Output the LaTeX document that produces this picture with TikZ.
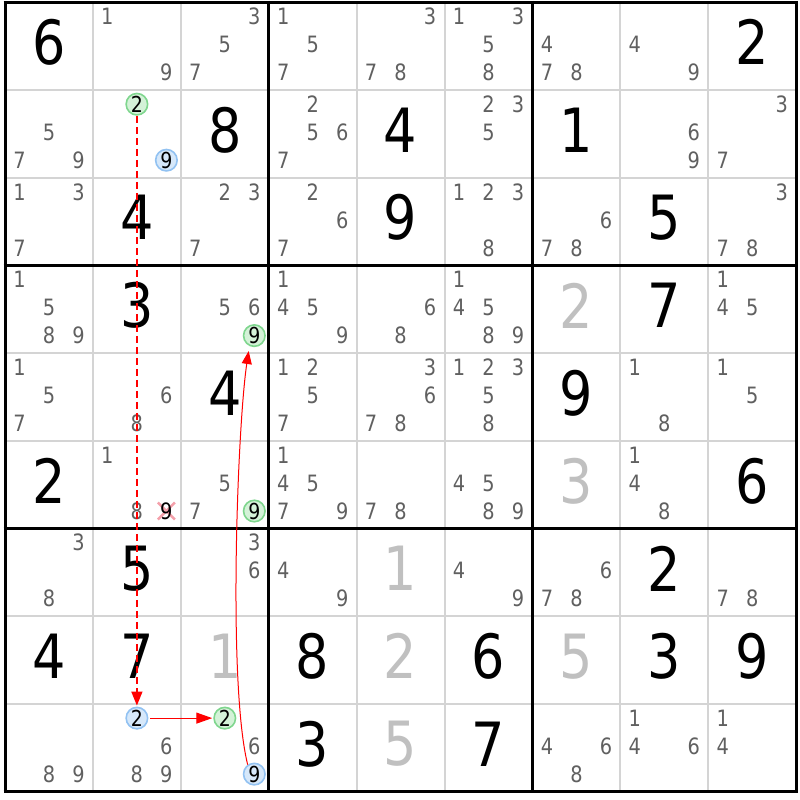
\documentclass[tikz,border=0pt]{standalone}
\usepackage{fontspec}
\setmainfont{DejaVu Sans}[FakeStretch=0.86]
\usetikzlibrary{arrows.meta}
\definecolor{candgray}{HTML}{606060}
\definecolor{givengray}{HTML}{C0C0C0}
\definecolor{gridgray}{HTML}{D4D4D4}
\definecolor{hlgreenfill}{HTML}{D4F2D8}
\definecolor{hlgreendraw}{HTML}{7FD68E}
\definecolor{hlbluefill}{HTML}{D6E8FA}
\definecolor{hlbluedraw}{HTML}{92C2F2}
\definecolor{linkred}{HTML}{FF0000}
\definecolor{elimred}{HTML}{F4A0AA}
\tikzset{
  cand/.style={inner sep=0pt, text=candgray, font=\fontsize{22.5}{22.5}\selectfont},
  given/.style={inner sep=0pt, text=black, font=\fontsize{61}{61}\selectfont},
  givenlight/.style={given, text=givengray},
  hlgreen/.style={circle, draw=hlgreendraw, fill=hlgreenfill, line width=1.6pt, minimum size=21.5pt, inner sep=0pt, text=black, font=\fontsize{22}{22}\selectfont},
  hlblue/.style={hlgreen, draw=hlbluedraw, fill=hlbluefill},
  thin grid/.style={gridgray, line width=2pt},
  thick grid/.style={black, line width=3pt},
  link/.style={linkred, line width=1.2pt, -{Triangle[length=16pt,width=11pt]}},
  dashlink/.style={linkred, line width=1.5pt, dash pattern=on 7pt off 4pt, -{Triangle[length=14pt,width=11pt]}},
  curvelink/.style={linkred, line width=1pt, -{Triangle[length=13pt,width=10pt]}},
  elim/.style={elimred, line width=2.5pt},
}
\newcommand\SGiven[3]{\node[given] (g#1#2) at ({5+(#2-0.5)*87.9},{2.5+(#1-0.5)*87.7-4}) {#3};}
\newcommand\SGivenL[3]{\node[givenlight] (g#1#2) at ({5+(#2-0.5)*87.9},{2.5+(#1-0.5)*87.7-4}) {#3};}
\newcommand\SCands[3]{\foreach \d in {#3} {\node[cand] (c#1#2\d) at ({5+(#2-1)*87.9+14.5+29.5*mod(\d-1,3)},{2.5+(#1-1)*87.7+14+28*int((\d-1)/3)}) {\d};}}
\newcommand\SHl[5]{\node[#4] (#5) at ({5+(#2-1)*87.9+14.5+29.5*mod(#3-1,3)},{2.5+(#1-1)*87.7+14+28*int((#3-1)/3)}) {#3};}
\begin{document}
\begin{tikzpicture}[x=1pt,y=-1pt]
\useasboundingbox (0,0) rectangle (800,800);
\fill[white] (0,0) rectangle (800,800);
% grid
\foreach \i in {1,2,4,5,7,8} {
  \draw[thin grid] ({5+87.9*\i},2.5) -- ({5+87.9*\i},791.8);
  \draw[thin grid] (5,{2.5+87.7*\i}) -- (796.1,{2.5+87.7*\i});
}
\foreach \i in {0,3,6,9} {
  \draw[thick grid] ({5+87.9*\i},1) -- ({5+87.9*\i},793.3);
  \draw[thick grid] (3.5,{2.5+87.7*\i}) -- (797.6,{2.5+87.7*\i});
}
% row 1
\SGiven{1}{1}{6}
\SCands{1}{2}{1,9}
\SCands{1}{3}{3,5,7}
\SCands{1}{4}{1,5,7}
\SCands{1}{5}{3,7,8}
\SCands{1}{6}{1,3,5,8}
\SCands{1}{7}{4,7,8}
\SCands{1}{8}{4,9}
\SGiven{1}{9}{2}
% row 2
\SCands{2}{1}{5,7,9}
\SHl{2}{2}{2}{hlgreen}{h222}
\SHl{2}{2}{9}{hlblue}{h229}
\SGiven{2}{3}{8}
\SCands{2}{4}{2,5,6,7}
\SGiven{2}{5}{4}
\SCands{2}{6}{2,3,5}
\SGiven{2}{7}{1}
\SCands{2}{8}{6,9}
\SCands{2}{9}{3,7}
% row 3
\SCands{3}{1}{1,3,7}
\SGiven{3}{2}{4}
\SCands{3}{3}{2,3,7}
\SCands{3}{4}{2,6,7}
\SGiven{3}{5}{9}
\SCands{3}{6}{1,2,3,8}
\SCands{3}{7}{6,7,8}
\SGiven{3}{8}{5}
\SCands{3}{9}{3,7,8}
% row 4
\SCands{4}{1}{1,5,8,9}
\SGiven{4}{2}{3}
\SCands{4}{3}{5,6}
\SHl{4}{3}{9}{hlgreen}{h439}
\SCands{4}{4}{1,4,5,9}
\SCands{4}{5}{6,8}
\SCands{4}{6}{1,4,5,8,9}
\SGivenL{4}{7}{2}
\SGiven{4}{8}{7}
\SCands{4}{9}{1,4,5}
% row 5
\SCands{5}{1}{1,5,7}
\SCands{5}{2}{6,8}
\SGiven{5}{3}{4}
\SCands{5}{4}{1,2,5,7}
\SCands{5}{5}{3,6,7,8}
\SCands{5}{6}{1,2,3,5,8}
\SGiven{5}{7}{9}
\SCands{5}{8}{1,8}
\SCands{5}{9}{1,5}
% row 6
\SGiven{6}{1}{2}
\SCands{6}{2}{1,8}
\coordinate (x629) at ({5+87.9+14.5+59},{2.5+5*87.7+14+56});
\draw[elim] (x629) +(-8.5,-8.5) -- +(8.5,8.5);
\draw[elim] (x629) +(-8.5,8.5) -- +(8.5,-8.5);
\node[cand, text=black] (c629) at (x629) {9};
\SCands{6}{3}{5,7}
\SHl{6}{3}{9}{hlgreen}{h639}
\SCands{6}{4}{1,4,5,7,9}
\SCands{6}{5}{7,8}
\SCands{6}{6}{4,5,8,9}
\SGivenL{6}{7}{3}
\SCands{6}{8}{1,4,8}
\SGiven{6}{9}{6}
% row 7
\SCands{7}{1}{3,8}
\SGiven{7}{2}{5}
\SCands{7}{3}{3,6}
\SCands{7}{4}{4,9}
\SGivenL{7}{5}{1}
\SCands{7}{6}{4,9}
\SCands{7}{7}{6,7,8}
\SGiven{7}{8}{2}
\SCands{7}{9}{7,8}
% row 8
\SGiven{8}{1}{4}
\SGiven{8}{2}{7}
\SGivenL{8}{3}{1}
\SGiven{8}{4}{8}
\SGivenL{8}{5}{2}
\SGiven{8}{6}{6}
\SGivenL{8}{7}{5}
\SGiven{8}{8}{3}
\SGiven{8}{9}{9}
% row 9
\SCands{9}{1}{8,9}
\SHl{9}{2}{2}{hlblue}{h922}
\SCands{9}{2}{6,8,9}
\SHl{9}{3}{2}{hlgreen}{h932}
\SCands{9}{3}{6}
\SHl{9}{3}{9}{hlblue}{h939}
\SGiven{9}{4}{3}
\SGivenL{9}{5}{5}
\SGiven{9}{6}{7}
\SCands{9}{7}{4,6,8}
\SCands{9}{8}{1,4,6}
\SCands{9}{9}{1,4}
% links
\draw[dashlink, shorten >=1pt] (h222.south) -- (h922.north);
\draw[link, shorten <=2pt, shorten >=1pt] (h922.east) -- (h932.west);
\draw[curvelink, shorten >=5pt] (h939.125) .. controls +(-20,-80) and +(-12,80) .. (h439.245);
\end{tikzpicture}
\end{document}
